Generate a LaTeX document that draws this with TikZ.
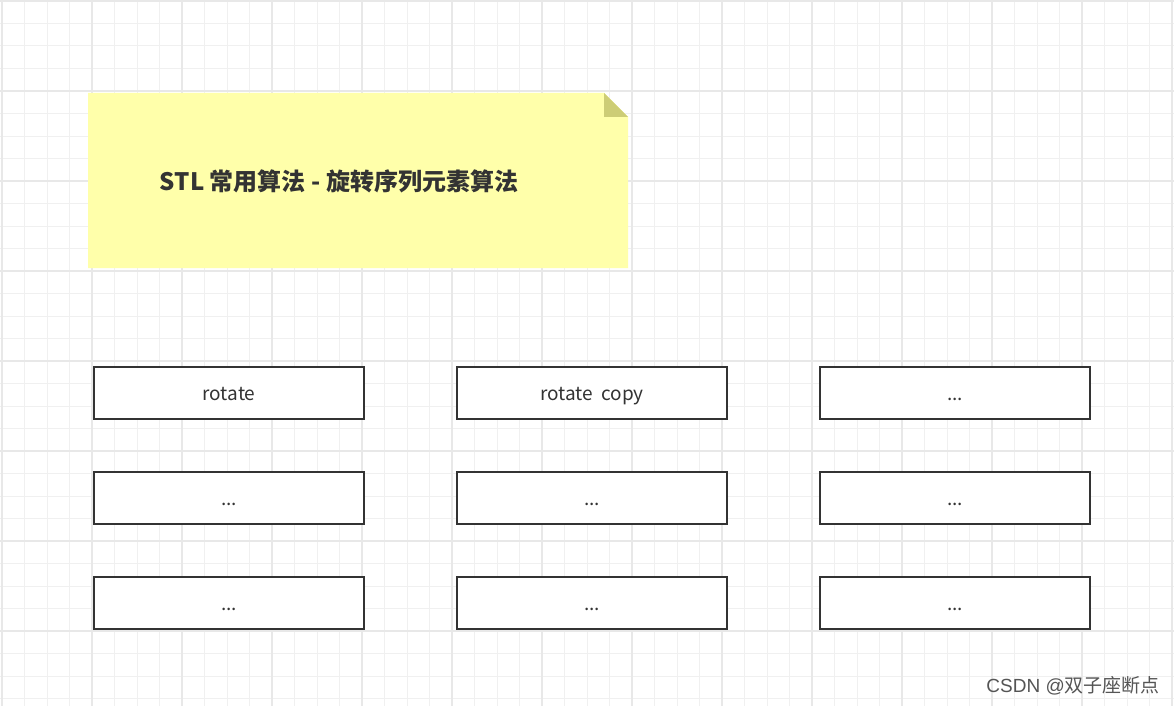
\documentclass[tikz,border=0pt]{standalone}
\usepackage{fontspec}
\newfontfamily\cjk{Noto Sans CJK SC}
\newfontfamily\wmfont{Liberation Sans}
\definecolor{gridminor}{RGB}{240,240,240}
\definecolor{gridmajor}{RGB}{232,232,232}
\definecolor{notefill}{RGB}{255,255,170}
\definecolor{notefold}{RGB}{205,205,118}
\definecolor{ink}{RGB}{51,51,51}
\definecolor{wmgray}{RGB}{85,85,85}

\begin{document}
\begin{tikzpicture}[
  x=1pt,
  y=-1pt,
  line join=miter,
  minorline/.style={draw=gridminor,line width=1pt},
  majorline/.style={draw=gridmajor,line width=1.2pt},
  opbox/.style={draw=ink,fill=white,line width=2.8pt,
    minimum width=270pt,minimum height=52pt,inner sep=0pt,
    text=ink,font=\cjk\fontsize{19}{19}\selectfont,
    text height=16.5pt,text depth=1.5pt}
]
  \useasboundingbox (0,0) rectangle (1174,706);
  \fill[white] (0,0) rectangle (1174,706);

  % Background grid: minor every 22.5, major every 90.
  \foreach \i in {0,...,52} {
    \draw[minorline] ({2+22.5*\i},0) -- ({2+22.5*\i},706);
  }
  \foreach \j in {0,...,31} {
    \draw[minorline] (0,{1+22.5*\j}) -- (1174,{1+22.5*\j});
  }
  \foreach \i in {0,...,13} {
    \draw[majorline] ({2+90*\i},0) -- ({2+90*\i},706);
  }
  \foreach \j in {0,...,7} {
    \draw[majorline] (0,{1+90*\j}) -- (1174,{1+90*\j});
  }

  % Sticky note with folded corner.
  \coordinate (nw) at (88,93);
  \coordinate (cut) at (604,93);
  \coordinate (fold) at (604,117);
  \coordinate (ne) at (628,117);
  \coordinate (se) at (628,268);
  \coordinate (sw) at (88,268);
  \fill[notefill] (nw) -- (cut) -- (ne) -- (se) -- (sw) -- cycle;
  \fill[notefold] (cut) -- (fold) -- (ne) -- cycle;
  \node[text=ink,font=\cjk\bfseries\fontsize{24}{24}\selectfont] (title) at (339,181)
    {STL 常用算法 - 旋转序列元素算法};

  % Algorithm boxes, three rows by three columns.
  \node[opbox] (rotate) at (229,393) {rotate};
  \node[opbox] (rotatecopy) at (592,393) {rotate\ \ copy};
  \node[opbox] (more13) at (955,393) {...};
  \node[opbox] (more21) at (229,498) {...};
  \node[opbox] (more22) at (592,498) {...};
  \node[opbox] (more23) at (955,498) {...};
  \node[opbox] (more31) at (229,603) {...};
  \node[opbox] (more32) at (592,603) {...};
  \node[opbox] (more33) at (955,603) {...};

  % Watermark.
  \node[anchor=east,text=wmgray,inner sep=0pt,font=\fontsize{19}{19}\selectfont] (mark) at (1160,686)
    {{\wmfont CSDN @}{\cjk 双子座断点}};
\end{tikzpicture}
\end{document}
